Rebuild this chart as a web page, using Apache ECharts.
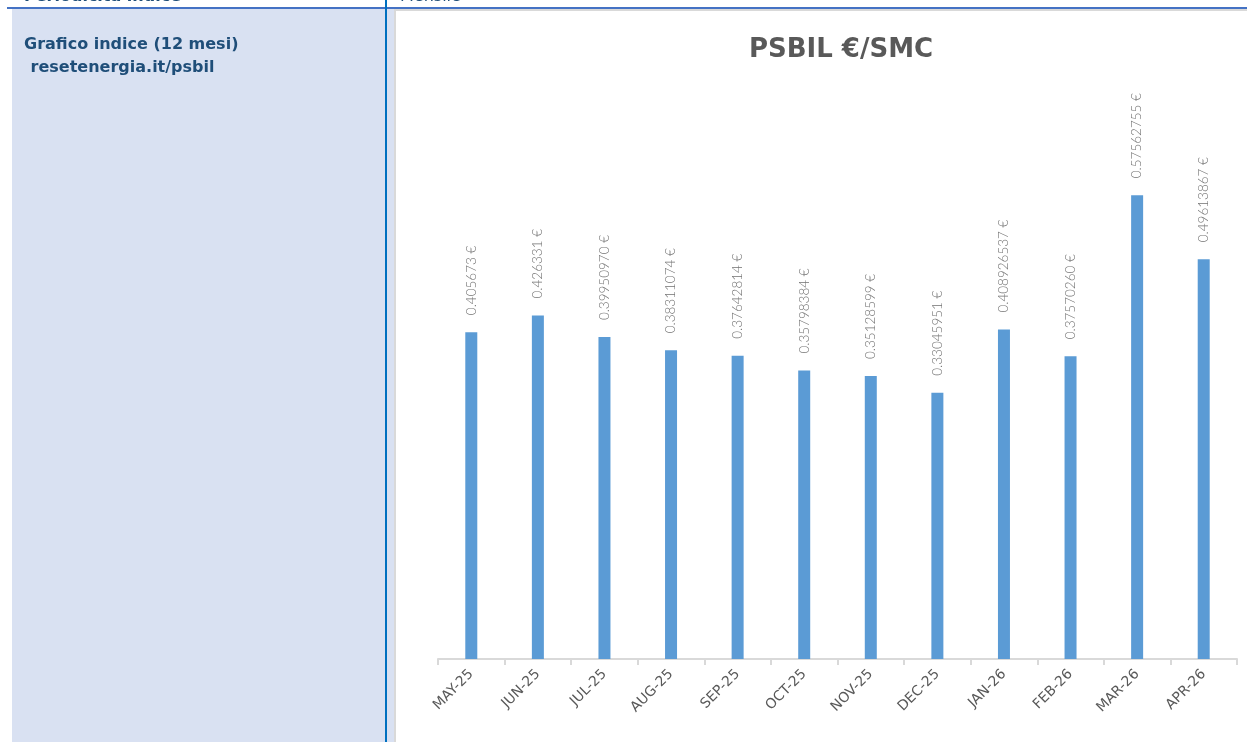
<!DOCTYPE html>
<html>
<head>
<meta charset="utf-8">
<title>PSBIL €/SMC</title>
<script src="https://cdn.jsdelivr.net/npm/echarts@6/dist/echarts.min.js"></script>
<style>
    html, body { margin: 0; padding: 0; background: #ffffff; }
    #chart { width: 1247px; height: 742px; }
</style>
</head>
<body>
<div id="chart"></div>
<script>
// mesi (asse x)
const months = ['MAY-25', 'JUN-25', 'JUL-25', 'AUG-25', 'SEP-25', 'OCT-25', 'NOV-25', 'DEC-25', 'JAN-26', 'FEB-26', 'MAR-26', 'APR-26'];
// valori PSBIL €/Smc come scritti nelle etichette
const priceText = ['0.405673', '0.426331', '0.39950970', '0.38311074', '0.37642814', '0.35798384', '0.35128599', '0.33045951', '0.408926537', '0.37570260', '0.57562755', '0.49613867'];
const prices = priceText.map(Number);

const chartTitle = 'PSBIL €/SMC';
const rowLabel = 'Periodicità indice';
const rowValue = 'Mensile';
const cellLines = ['Grafico indice (12 mesi)', ' resetenergia.it/psbil'];

const chart = echarts.init(document.getElementById('chart'));

function createGraphic(){
    // cornice tabella intorno al grafico
    const cellFont = 'bold 16px "DejaVu Sans"';
    return [
        { type: 'rect', z: -10, shape: { x: 12, y: 9, width: 382, height: 733 }, style: { fill: '#d9e1f2' } },
        { type: 'rect', z: -9, shape: { x: 394, y: 9, width: 2, height: 733 }, style: { fill: '#d9d9d9' } },
        { type: 'rect', z: -9, shape: { x: 394, y: 9, width: 853, height: 2 }, style: { fill: '#d9d9d9' } },
        { type: 'rect', z: -8, shape: { x: 7, y: 7, width: 1240, height: 2 }, style: { fill: '#4472c4' } },
        { type: 'rect', z: -7, shape: { x: 385, y: 0, width: 2, height: 742 }, style: { fill: '#0070c0' } },
        { type: 'text', z: -6, x: 24, y: -3, style: { text: rowLabel, fill: '#1f4e79', font: cellFont, textVerticalAlign: 'middle' } },
        { type: 'text', z: -6, x: 400, y: -3, style: { text: rowValue, fill: '#1f4e79', font: '16px "DejaVu Sans"', textVerticalAlign: 'middle' } },
        { type: 'text', z: -6, x: 24, y: 45, style: { text: cellLines[0], fill: '#1f4e79', font: cellFont, textVerticalAlign: 'middle' } },
        { type: 'text', z: -6, x: 25, y: 68, style: { text: cellLines[1], fill: '#1f4e79', font: cellFont, textVerticalAlign: 'middle' } }
    ];
}

const options = {
    backgroundColor: '#ffffff',
    animation: false,
    title: {
        text: chartTitle,
        left: 836,
        top: 32,
        textAlign: 'center',
        textStyle: {
            color: '#595959',
            fontFamily: 'DejaVu Sans',
            fontWeight: 'bold',
            fontSize: 26
        }
    },
    graphic: createGraphic(),
    grid: {
        left: 438,
        right: 10,
        top: 95,
        bottom: 83
    },
    xAxis: {
        type: 'category',
        data: months,
        axisLine: { lineStyle: { color: '#d9d9d9', width: 2 } },
        axisTick: { show: true, length: 6, lineStyle: { color: '#d9d9d9', width: 2 } },
        axisLabel: {
            rotate: 45,
            margin: 13,
            color: '#595959',
            fontFamily: 'DejaVu Sans',
            fontSize: 14
        }
    },
    yAxis: {
        type: 'value',
        min: 0,
        max: 0.7,
        show: false
    },
    series: [{
        type: 'bar',
        data: prices,
        barWidth: 12,
        itemStyle: { color: '#5b9bd5' },
        label: {
            show: true,
            position: 'top',
            distance: 17,
            rotate: 90,
            align: 'left',
            verticalAlign: 'middle',
            color: '#737373',
            fontFamily: 'Lato',
            fontWeight: 300,
            fontSize: 13.5,
            formatter: p => priceText[p.dataIndex] + ' €'
        }
    }]
};

chart.setOption(options);
</script>
</body>
</html>
